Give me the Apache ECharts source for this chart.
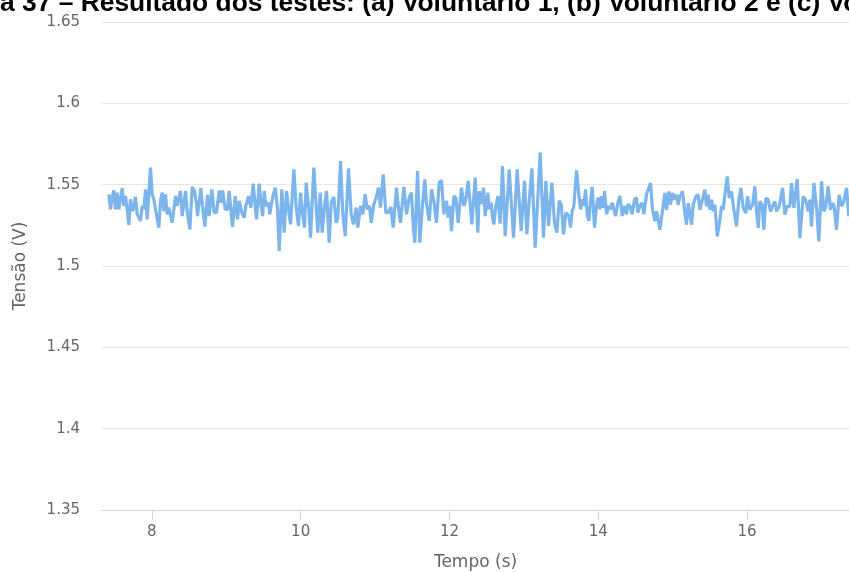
<!DOCTYPE html>
<html>
<head>
<meta charset="utf-8">
<title>Tensão x Tempo</title>
<script src="https://cdn.jsdelivr.net/npm/echarts@6/dist/echarts.min.js"></script>
<style>
  html, body { margin: 0; padding: 0; background: #ffffff; }
  #chart { width: 849px; height: 572px; }
</style>
</head>
<body>
<div id="chart"></div>
<script>
// Título da figura
const titulo = 'Figura 37 – Resultado dos testes: (a) Voluntário 1, (b) Voluntário 2 e (c) Voluntário 3';

// Eixos
const nomeEixoX = 'Tempo (s)';
const nomeEixoY = 'Tensão (V)';
const ticksX = [8, 10, 12, 14, 16];
const limitesX = [7.33, 17.37];
const limitesY = [1.35, 1.65];
const passoY = 0.05;

// Instantes de amostragem (s)
const tempo = [
  7.422, 7.444, 7.467, 7.489, 7.512, 7.534, 7.556, 7.601, 7.624, 7.646,
  7.668, 7.691, 7.713, 7.736, 7.758, 7.780, 7.803, 7.848, 7.870, 7.892,
  7.915, 7.937, 7.982, 8.004, 8.027, 8.049, 8.094, 8.116, 8.139, 8.161,
  8.184, 8.206, 8.228, 8.251, 8.273, 8.318, 8.340, 8.385, 8.408, 8.453,
  8.475, 8.511, 8.542, 8.573, 8.600,
  8.614, 8.659, 8.681, 8.712, 8.748, 8.771, 8.806, 8.838, 8.869, 8.905,
  8.927, 8.950, 8.986, 9.017, 9.039, 9.084, 9.120, 9.151, 9.174, 9.210,
  9.241, 9.263, 9.299, 9.331, 9.362, 9.389, 9.407, 9.443, 9.465, 9.488,
  9.510, 9.532, 9.568, 9.586, 9.622, 9.658, 9.689, 9.712, 9.747, 9.779,
  9.810, 9.846,
  9.864, 9.909, 9.940, 9.971, 9.998, 10.030, 10.052, 10.074, 10.106, 10.133,
  10.177, 10.209, 10.231, 10.263, 10.289, 10.321, 10.348, 10.384, 10.410, 10.446,
  10.478, 10.500, 10.536, 10.567, 10.599, 10.643, 10.679, 10.711, 10.746, 10.769,
  10.805, 10.836, 10.867, 10.894, 10.926, 10.948, 10.984, 11.015, 11.047, 11.073,
  11.109, 11.145, 11.177, 11.212, 11.244, 11.288, 11.324, 11.342, 11.387, 11.423,
  11.459, 11.490, 11.513, 11.535, 11.571, 11.602, 11.638, 11.669, 11.692, 11.728,
  11.759, 11.790, 11.826, 11.862, 11.893, 11.925, 11.961, 11.983, 12.005, 12.028,
  12.059, 12.086, 12.117, 12.162, 12.194, 12.220, 12.252,
  12.301, 12.346, 12.382, 12.400, 12.427, 12.458, 12.480, 12.516, 12.534, 12.561,
  12.579, 12.597, 12.624, 12.651, 12.682, 12.713, 12.749, 12.803, 12.861, 12.910,
  12.964, 13.009, 13.040, 13.072, 13.108, 13.152, 13.184, 13.220, 13.264, 13.296,
  13.332, 13.376, 13.412, 13.444, 13.475, 13.502, 13.533, 13.565,
  13.605, 13.627, 13.650, 13.672, 13.708, 13.739, 13.762, 13.784, 13.806, 13.829,
  13.851, 13.874, 13.896, 13.918, 13.950, 13.977, 13.999, 14.021, 14.039, 14.066,
  14.084, 14.111, 14.142, 14.165, 14.187, 14.210, 14.232, 14.263, 14.290, 14.322,
  14.344, 14.380, 14.398, 14.425, 14.456, 14.487, 14.514, 14.532, 14.559, 14.590,
  14.613, 14.649,
  14.703, 14.729, 14.761, 14.783, 14.806, 14.828, 14.850, 14.873, 14.895, 14.918,
  14.949, 14.971, 14.998, 15.021, 15.052, 15.074, 15.097, 15.133, 15.164, 15.186,
  15.209, 15.231, 15.254, 15.276, 15.312, 15.343, 15.366, 15.401, 15.433, 15.455,
  15.478, 15.500, 15.522, 15.545, 15.567, 15.599, 15.625, 15.657, 15.679, 15.702,
  15.733, 15.760, 15.791, 15.823, 15.858, 15.890, 15.917, 15.948, 15.984, 16.006,
  16.038, 16.073, 16.105, 16.127, 16.150, 16.172, 16.203, 16.226, 16.253, 16.284,
  16.315, 16.342, 16.374, 16.396, 16.432, 16.477, 16.508, 16.539, 16.575, 16.598,
  16.629, 16.674, 16.710, 16.754, 16.786, 16.822, 16.844, 16.866, 16.898, 16.934,
  16.965, 17.001, 17.032, 17.059, 17.090, 17.122, 17.149, 17.171, 17.202, 17.238,
  17.270, 17.301, 17.337, 17.368
];

// Tensão medida (V)
const tensao = [
  1.5441, 1.5348, 1.5420, 1.5465, 1.5348, 1.5451, 1.5348, 1.5478, 1.5369, 1.5430,
  1.5348, 1.5252, 1.5410, 1.5338, 1.5359, 1.5424, 1.5318, 1.5277, 1.5369, 1.5348,
  1.5471, 1.5287, 1.5605, 1.5441, 1.5410, 1.5348, 1.5236, 1.5400, 1.5451, 1.5338,
  1.5441, 1.5318, 1.5359, 1.5369, 1.5266, 1.5430, 1.5369, 1.5461, 1.5307, 1.5461,
  1.5338, 1.5225, 1.5486, 1.5461, 1.5379,
  1.5307, 1.5478, 1.5369, 1.5242, 1.5437, 1.5307, 1.5471, 1.5328, 1.5328, 1.5465,
  1.5389, 1.5465, 1.5348, 1.5348, 1.5461, 1.5240, 1.5430, 1.5287, 1.5400, 1.5328,
  1.5297, 1.5369, 1.5430, 1.5359, 1.5506, 1.5369, 1.5287, 1.5506, 1.5389, 1.5307,
  1.5461, 1.5369, 1.5389, 1.5318, 1.5420, 1.5482, 1.5348, 1.5092, 1.5471, 1.5205,
  1.5461, 1.5318,
  1.5256, 1.5594, 1.5359, 1.5246, 1.5451, 1.5307, 1.5236, 1.5512, 1.5369, 1.5174,
  1.5605, 1.5359, 1.5205, 1.5451, 1.5205, 1.5369, 1.5461, 1.5143, 1.5389, 1.5424,
  1.5266, 1.5297, 1.5645, 1.5318, 1.5184, 1.5600, 1.5318, 1.5256, 1.5359, 1.5236,
  1.5369, 1.5318, 1.5441, 1.5348, 1.5369, 1.5266, 1.5379, 1.5420, 1.5482, 1.5359,
  1.5564, 1.5328, 1.5328, 1.5363, 1.5236, 1.5482, 1.5318, 1.5266, 1.5486, 1.5318,
  1.5420, 1.5451, 1.5246, 1.5143, 1.5584, 1.5143, 1.5379, 1.5533, 1.5379, 1.5277,
  1.5471, 1.5400, 1.5266, 1.5512, 1.5527, 1.5318, 1.5400, 1.5297, 1.5369, 1.5215,
  1.5430, 1.5420, 1.5266, 1.5482, 1.5369, 1.5410, 1.5523,
  1.5256, 1.5543, 1.5205, 1.5461, 1.5379, 1.5482, 1.5307, 1.5451, 1.5348, 1.5389,
  1.5297, 1.5256, 1.5369, 1.5430, 1.5260, 1.5615, 1.5184, 1.5594, 1.5174, 1.5594,
  1.5215, 1.5523, 1.5195, 1.5400, 1.5600, 1.5113, 1.5389, 1.5697, 1.5174, 1.5523,
  1.5246, 1.5512, 1.5266, 1.5205, 1.5400, 1.5379, 1.5195, 1.5328,
  1.5307, 1.5236, 1.5338, 1.5369, 1.5588, 1.5441, 1.5348, 1.5410, 1.5369, 1.5471,
  1.5318, 1.5277, 1.5400, 1.5486, 1.5236, 1.5369, 1.5420, 1.5348, 1.5430, 1.5359,
  1.5461, 1.5318, 1.5369, 1.5348, 1.5389, 1.5348, 1.5307, 1.5389, 1.5430, 1.5307,
  1.5369, 1.5318, 1.5379, 1.5369, 1.5318, 1.5410, 1.5420, 1.5328, 1.5369, 1.5389,
  1.5318, 1.5441,
  1.5510, 1.5346, 1.5275, 1.5336, 1.5285, 1.5223, 1.5295, 1.5285, 1.5449, 1.5346,
  1.5459, 1.5377, 1.5449, 1.5408, 1.5438, 1.5377, 1.5428, 1.5459, 1.5326, 1.5254,
  1.5387, 1.5397, 1.5254, 1.5377, 1.5428, 1.5438, 1.5346, 1.5408, 1.5469, 1.5367,
  1.5438, 1.5346, 1.5408, 1.5336, 1.5377, 1.5182, 1.5254, 1.5367, 1.5346, 1.5438,
  1.5551, 1.5418, 1.5459, 1.5346, 1.5244, 1.5408, 1.5480, 1.5357, 1.5326, 1.5428,
  1.5346, 1.5377, 1.5490, 1.5336, 1.5234, 1.5397, 1.5377, 1.5223, 1.5418, 1.5408,
  1.5336, 1.5367, 1.5397, 1.5336, 1.5367, 1.5480, 1.5316, 1.5367, 1.5367, 1.5510,
  1.5357, 1.5535, 1.5172, 1.5428, 1.5408, 1.5336, 1.5408, 1.5244, 1.5510, 1.5357,
  1.5152, 1.5520, 1.5336, 1.5367, 1.5490, 1.5346, 1.5387, 1.5367, 1.5223, 1.5438,
  1.5367, 1.5397, 1.5480, 1.5305
];

const pontos = tempo.map((t, i) => [t, tensao[i]]);

const corTexto = '#666666';
const fonte = '"DejaVu Sans", sans-serif';

const chart = echarts.init(document.getElementById('chart'), null, { renderer: 'canvas' });

chart.setOption({
  animation: false,
  backgroundColor: '#ffffff',
  grid: { left: 102, right: 0, top: 22, bottom: 62, containLabel: false, outerBoundsMode: 'none' },
  graphic: [{
    type: 'text',
    left: -66,
    top: -9,
    style: {
      text: titulo,
      fill: '#000000',
      font: 'bold 26.4px "Liberation Sans", Arial, sans-serif'
    }
  }],
  xAxis: {
    type: 'value',
    min: limitesX[0],
    max: limitesX[1],
    name: nomeEixoX,
    nameLocation: 'middle',
    nameGap: 44,
    nameTextStyle: { color: corTexto, fontSize: 17, fontFamily: fonte },
    axisLine: { show: true, lineStyle: { color: '#ccd6eb', width: 1 } },
    axisTick: { show: true, length: 10, lineStyle: { color: '#ccd6eb' }, customValues: ticksX },
    axisLabel: { color: corTexto, fontSize: 15, fontFamily: fonte, margin: 15, customValues: ticksX },
    splitLine: { show: false }
  },
  yAxis: {
    type: 'value',
    min: limitesY[0],
    max: limitesY[1],
    interval: passoY,
    name: nomeEixoY,
    nameLocation: 'middle',
    nameGap: 73,
    nameTextStyle: { color: corTexto, fontSize: 17, fontFamily: fonte },
    axisLine: { show: false },
    axisTick: { show: false },
    axisLabel: { color: corTexto, fontSize: 15, fontFamily: fonte, margin: 22 },
    splitLine: { show: true, lineStyle: { color: '#e6e6e6', width: 1 } }
  },
  series: [{
    type: 'line',
    data: pontos,
    showSymbol: false,
    clip: true,
    lineStyle: { color: '#7cb5ec', width: 3.2 },
    itemStyle: { color: '#7cb5ec' }
  }]
});
</script>
</body>
</html>
